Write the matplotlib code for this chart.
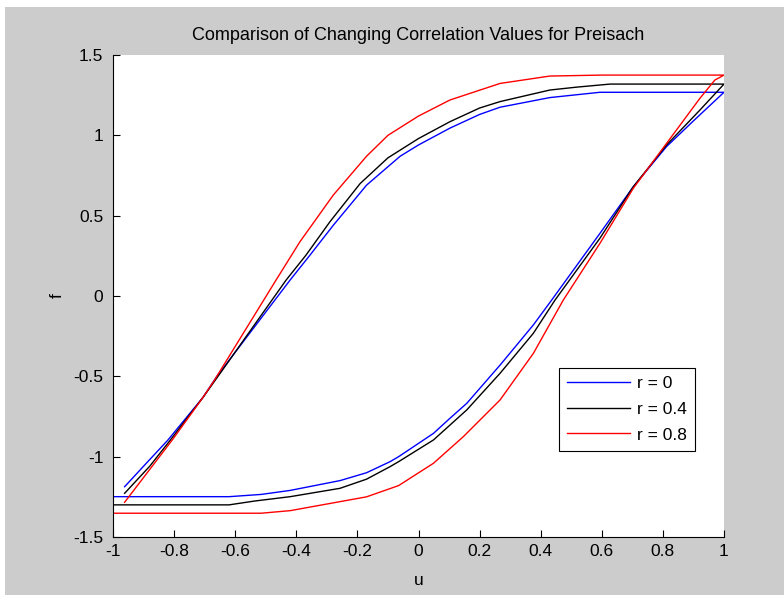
import matplotlib.pyplot as plt
from matplotlib.patches import Rectangle

plt.rcParams['font.family'] = ['Liberation Sans', 'DejaVu Sans']

# ascending branch (u increasing), then descending branch (u increasing)
u_lo_0 = [-1.0, -0.62, -0.515, -0.42, -0.257, -0.17, -0.093, -0.065, 0.049, 0.103, 0.158, 0.267, 0.376, 0.436, 0.594, 0.703, 0.812, 0.9, 1.0]
f_lo_0 = [-1.249, -1.249, -1.235, -1.21, -1.149, -1.10, -1.031, -1.0, -0.855, -0.761, -0.668, -0.43, -0.18, -0.025, 0.39, 0.68, 0.93, 1.09, 1.268]
u_up_0 = [-0.962, -0.891, -0.82, -0.705, -0.66, -0.42, -0.355, -0.279, -0.17, -0.06, 0.0, 0.103, 0.2, 0.267, 0.43, 0.594, 1.0]
f_up_0 = [-1.187, -1.041, -0.896, -0.63, -0.50, 0.10, 0.255, 0.44, 0.69, 0.87, 0.94, 1.045, 1.13, 1.175, 1.235, 1.268, 1.268]

u_lo_4 = [-1.0, -0.62, -0.536, -0.42, -0.257, -0.17, -0.093, -0.065, 0.049, 0.158, 0.267, 0.376, 0.447, 0.594, 0.703, 0.812, 0.921, 1.0]
f_lo_4 = [-1.30, -1.30, -1.276, -1.249, -1.197, -1.14, -1.062, -1.031, -0.896, -0.709, -0.481, -0.232, -0.025, 0.36, 0.68, 0.94, 1.157, 1.319]
u_up_4 = [-0.962, -0.88, -0.812, -0.705, -0.66, -0.433, -0.368, -0.29, -0.191, -0.1, 0.0, 0.103, 0.2, 0.267, 0.43, 0.518, 0.627, 1.0]
f_up_4 = [-1.228, -1.06, -0.896, -0.63, -0.51, 0.10, 0.255, 0.462, 0.70, 0.86, 0.98, 1.085, 1.17, 1.21, 1.282, 1.30, 1.319, 1.319]

u_lo_8 = [-1.0, -0.515, -0.42, -0.257, -0.17, -0.065, 0.049, 0.147, 0.267, 0.376, 0.474, 0.594, 0.703, 0.812, 0.921, 0.97, 1.0]
f_lo_8 = [-1.352, -1.352, -1.336, -1.28, -1.25, -1.18, -1.041, -0.875, -0.647, -0.357, -0.025, 0.328, 0.67, 0.95, 1.23, 1.344, 1.375]
u_up_8 = [-0.962, -0.806, -0.705, -0.67, -0.466, -0.388, -0.279, -0.17, -0.10, 0.0, 0.103, 0.267, 0.43, 0.60, 1.0]
f_up_8 = [-1.284, -0.896, -0.63, -0.53, 0.10, 0.338, 0.628, 0.87, 1.00, 1.12, 1.22, 1.323, 1.369, 1.375, 1.375]

labels = ['r = 0', 'r = 0.4', 'r = 0.8']
colors = ['#0000ff', '#000000', '#ff0000']

fig = plt.figure(figsize=(7.84, 5.95), dpi=100, facecolor='#cccccc')
fig.patches.append(Rectangle((0, 1 - 7 / 595), 1, 7 / 595, transform=fig.transFigure,
                             facecolor='white', edgecolor='none', zorder=-1))
fig.patches.append(Rectangle((0, 0), 5 / 784, 1, transform=fig.transFigure,
                             facecolor='white', edgecolor='none', zorder=-1))
ax = fig.add_axes([113 / 784, 1 - 537 / 595, 611 / 784, 482 / 595])

series = [(u_lo_0, f_lo_0, u_up_0, f_up_0),
          (u_lo_4, f_lo_4, u_up_4, f_up_4),
          (u_lo_8, f_lo_8, u_up_8, f_up_8)]
for (ul, fl, uu, fu), lab, c in zip(series, labels, colors):
    # loop: along the lower branch to the right, back along the upper branch
    ax.plot(list(ul) + uu[::-1], list(fl) + fu[::-1], color=c, lw=1.0, label=lab)

ax.set_xlim(-1, 1)
ax.set_ylim(-1.5, 1.5)
ax.set_xticks([-1, -0.8, -0.6, -0.4, -0.2, 0, 0.2, 0.4, 0.6, 0.8, 1])
ax.set_xticklabels(['-1', '-0.8', '-0.6', '-0.4', '-0.2', '0', '0.2', '0.4', '0.6', '0.8', '1'])
ax.set_yticks([-1.5, -1, -0.5, 0, 0.5, 1, 1.5])
ax.set_yticklabels(['-1.5', '-1', '-0.5', '0', '0.5', '1', '1.5'])
ax.spines['top'].set_visible(False)
ax.spines['right'].set_visible(False)
ax.tick_params(direction='in', length=5, labelsize=12.5, colors='black')
ax.tick_params(axis='x', pad=5)
ax.tick_params(axis='y', pad=7)

ax.set_title('Comparison of Changing Correlation Values for Preisach', fontsize=13, pad=11)
ax.set_xlabel('u', fontsize=12.5, labelpad=10)
ax.set_ylabel('f', fontsize=12.5, labelpad=6)

leg = ax.legend(loc='lower right', bbox_to_anchor=(0.953, 0.178), borderaxespad=0,
                fontsize=12.5, fancybox=False, framealpha=1, edgecolor='black',
                handlelength=3.6, handletextpad=0.4, labelspacing=0.6, borderpad=0.5)
leg.get_frame().set_linewidth(0.8)

fig.savefig('out.png', dpi=100, facecolor=fig.get_facecolor())
